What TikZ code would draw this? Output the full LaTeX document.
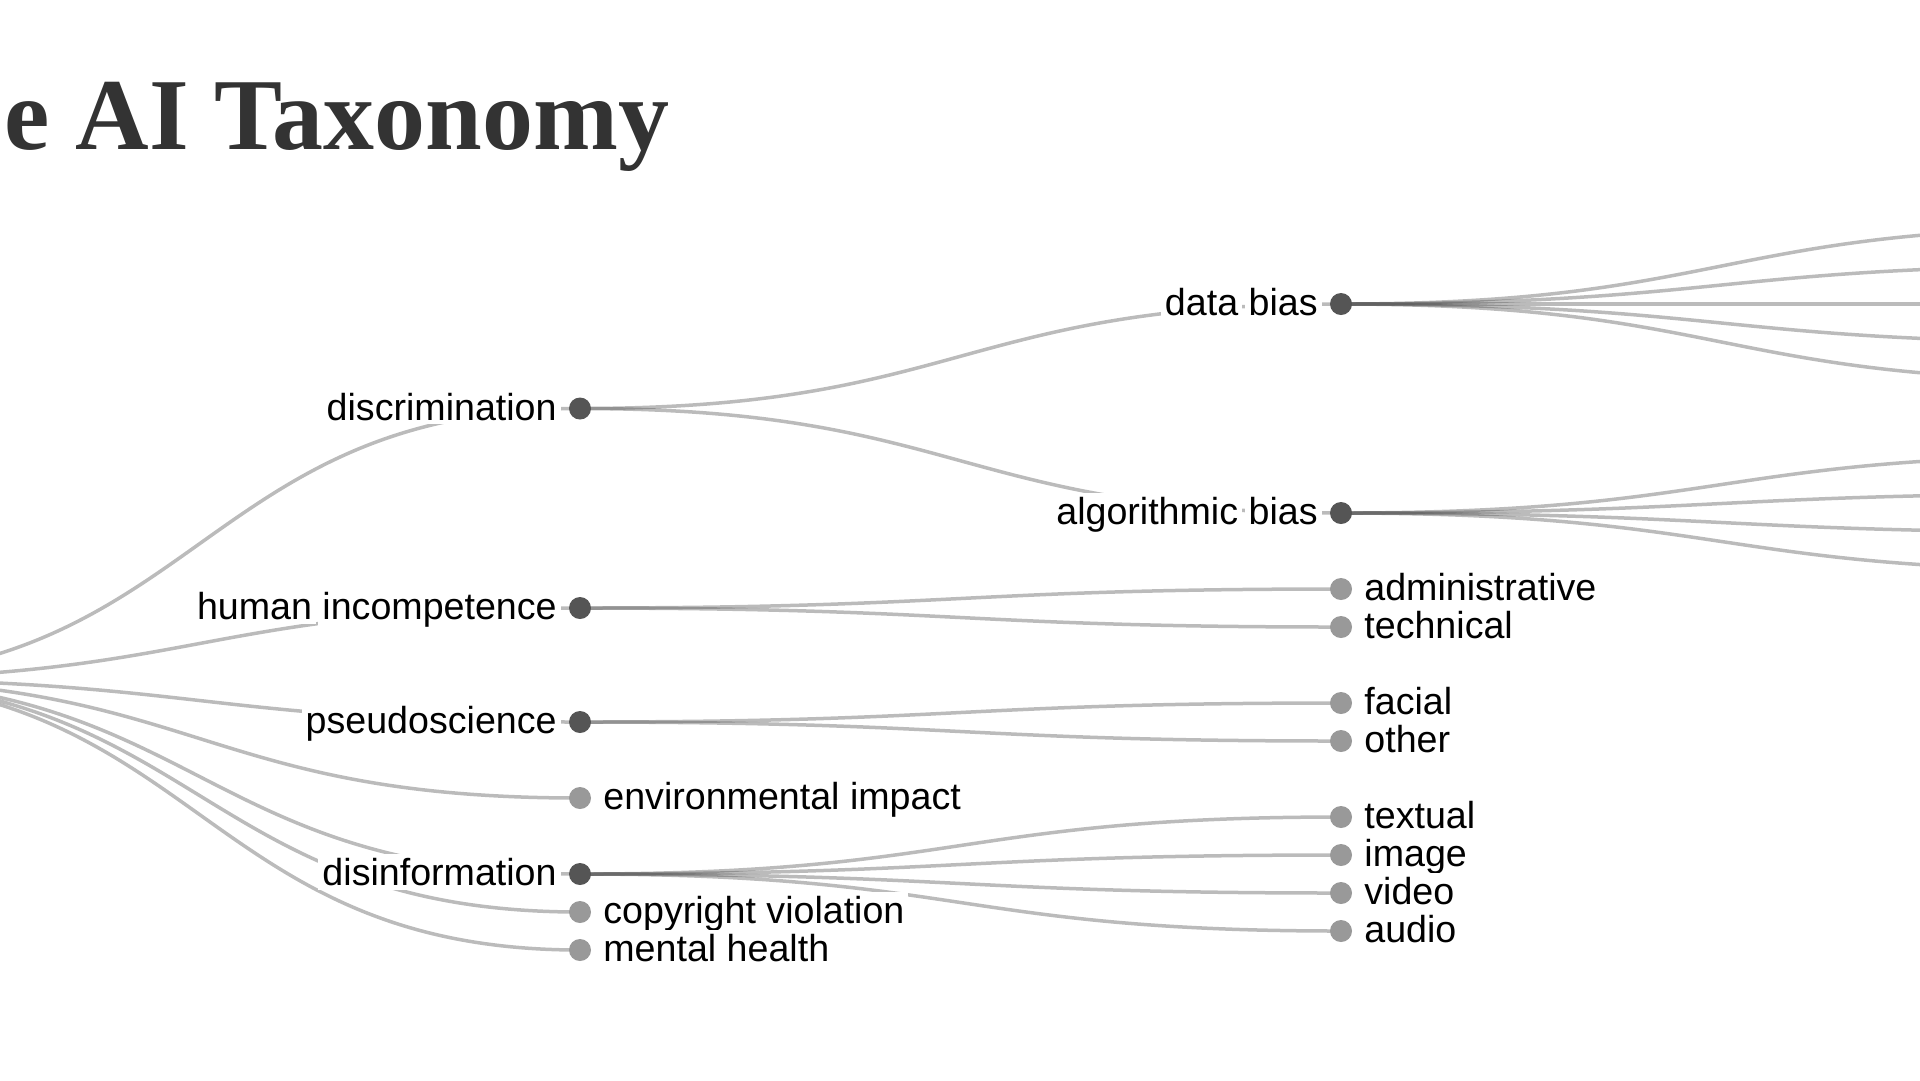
\documentclass[tikz,border=0pt]{standalone}
\usepackage{fontspec}
\setmainfont{Liberation Sans}
\newfontfamily\titlefont{Liberation Serif}
\usetikzlibrary{calc,positioning}
\pgfdeclarelayer{background}
\pgfsetlayers{background,main}

\definecolor{linkgray}{HTML}{555555}
\definecolor{innergray}{HTML}{555555}
\definecolor{leafgray}{HTML}{999999}
\definecolor{titlegray}{HTML}{333333}

% white patch behind each word, so the links stop at the words
\setlength{\fboxsep}{0.4mm}
\newcommand\halo[1]{\kern-\fboxsep\colorbox{white}{#1}\kern-\fboxsep}
\def\halotext#1{\expandafter\halotexti#1 \nil}
\def\halotexti#1 #2\nil{\halo{#1}\ifx\relax#2\relax\else\ \halotexti#2\nil\fi}

% d3 style horizontal link
\newcommand\treelink[2]{%
	\edef\linkfrom{#1}\edef\linkto{#2}%
	\draw[link] let \p1=(\linkfrom), \p2=(\linkto) in
	(\p1) .. controls ({(\x1+\x2)/2},\y1) and ({(\x1+\x2)/2},\y2) .. (\p2);}

\begin{document}
\begin{tikzpicture}[
x=0.1mm,
y=-0.1mm,
inner/.style={
	fill=innergray,
	circle,
	minimum size=2.2mm,
	inner sep=0pt
},
leaf/.style={
	fill=leafgray,
	circle,
	minimum size=2.2mm,
	inner sep=0pt
},
link/.style={
	draw=linkgray,
	draw opacity=0.4,
	line width=0.35mm
},
lbll/.style={
	font=\fontsize{10.7}{12}\selectfont,
	inner sep=0pt,
	anchor=base east,
	label distance=1.1mm,
	yshift=-1.15mm
},
lblr/.style={
	font=\fontsize{10.7}{12}\selectfont,
	inner sep=0pt,
	anchor=base west,
	label distance=1.1mm,
	yshift=-1.15mm
}
]
\useasboundingbox (0,0) rectangle (1920,1080);
\clip (0,0) rectangle (1920,1080);

\node[font=\titlefont\bfseries\fontsize{29}{34}\selectfont,text=titlegray,
	anchor=base east,inner sep=0pt] (title) at (670,149) {e AI Taxonomy};

\coordinate (root) at (-181,679);

% first level
\foreach \i/\h/\l in {1/408.5/discrimination,2/608/human incompetence,
	3/722/pseudoscience,5/874/disinformation}
\node[inner,label={[lbll]left:\halotext{\l}}] (a\i) at (580,\h) {};
\foreach \i/\h/\l in {4/798/environmental impact,6/912/copyright violation,
	7/950/mental health}
\node[leaf,label={[lblr]right:\halotext{\l}}] (a\i) at (580,\h) {};

% second level
\foreach \i/\h/\l in {1/304/data bias,2/513/algorithmic bias}
\node[inner,label={[lbll]left:\halotext{\l}}] (b\i) at (1341,\h) {};
\foreach \i/\h/\l in {3/589/administrative,4/627/technical,5/703/facial,
	6/741/other,7/817/textual,8/855/image,9/893/video,10/931/audio}
\node[leaf,label={[lblr]right:\halotext{\l}}] (b\i) at (1341,\h) {};

% third level (off the page)
\foreach \i/\h in {1/228,2/266,3/304,4/342,5/380,6/456,7/494,8/532,9/570}
\coordinate (c\i) at (2102,\h);

\begin{pgfonlayer}{background}
\clip (0,0) rectangle (1920,1080);
\foreach \i in {1,...,7}
\treelink{root}{a\i};
\foreach \u/\v in {a1/b1,a1/b2,a2/b3,a2/b4,a3/b5,a3/b6,a5/b7,a5/b8,a5/b9,a5/b10}
\treelink{\u}{\v};
\foreach \i in {1,...,5}
\treelink{b1}{c\i};
\foreach \i in {6,...,9}
\treelink{b2}{c\i};
\end{pgfonlayer}
\end{tikzpicture}
\end{document}
